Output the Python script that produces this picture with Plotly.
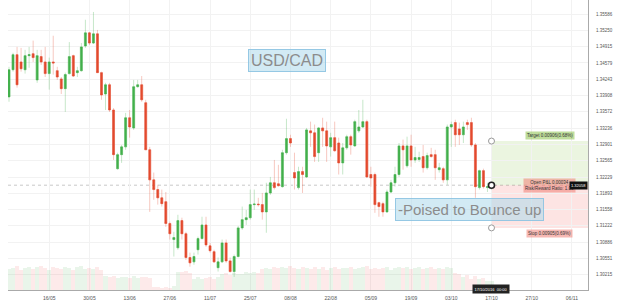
import plotly.graph_objects as go

# ---------------- data ----------------
tick_labels_x = ["16/05", "30/05", "13/06", "27/06", "11/07", "25/07", "08/08",
                 "22/08", "05/09", "19/09", "03/10", "17/10", "27/10", "06/11"]
tick_pos_x = [10, 20, 30, 40, 50, 60, 70, 80, 90, 100, 110, 120, 130, 140]

price_ticks = ["1.30215", "1.30551", "1.30886", "1.31222", "1.31558", "1.31893",
               "1.32229", "1.32565", "1.32901", "1.33236", "1.33572", "1.33908",
               "1.34243", "1.34579", "1.34915", "1.35250", "1.35586"]

opens = [1.3388, 1.3444, 1.3475, 1.3460, 1.3444, 1.3473, 1.3477, 1.3423, 1.3471, 1.3460,
         1.3436, 1.3460, 1.3442, 1.3425, 1.3405, 1.3436, 1.3473, 1.3438, 1.3442, 1.3493,
         1.3520, 1.3499, 1.3518, 1.3438, 1.3394, 1.3413, 1.3361, 1.3240, 1.3269, 1.3285,
         1.3345, 1.3324, 1.3409, 1.3413, 1.3376, 1.3279, 1.3217, 1.3197, 1.3180, 1.3172,
         1.3127, 1.3094, 1.3077, 1.3133, 1.3106, 1.3057, 1.3048, 1.3073, 1.3096, 1.3124,
         1.3081, 1.3069, 1.3036, 1.3048, 1.3087, 1.3050, 1.3028, 1.3059, 1.3118, 1.3135,
         1.3139, 1.3166, 1.3167, 1.3166, 1.3151, 1.3190, 1.3211, 1.3209, 1.3203, 1.3273,
         1.3302, 1.3232, 1.3201, 1.3234, 1.3223, 1.3318, 1.3314, 1.3273, 1.3324, 1.3318,
         1.3285, 1.3304, 1.3293, 1.3252, 1.3283, 1.3306, 1.3287, 1.3318, 1.3326, 1.3337,
         1.3228, 1.3228, 1.3170, 1.3168, 1.3151, 1.3192, 1.3211, 1.3228, 1.3287, 1.3246,
         1.3287, 1.3258, 1.3259, 1.3265, 1.3242, 1.3269, 1.3269, 1.3238, 1.3240, 1.3217,
         1.3326, 1.3335, 1.3322, 1.3310, 1.3335, 1.3335, 1.3289, 1.3201, 1.3236, 1.3201,
         1.3203]
highs = [1.3450, 1.3479, 1.3491, 1.3489, 1.3485, 1.3491, 1.3504, 1.3485, 1.3485, 1.3491,
         1.3469, 1.3514, 1.3450, 1.3429, 1.3438, 1.3501, 1.3475, 1.3450, 1.3499, 1.3547,
         1.3522, 1.3563, 1.3526, 1.3440, 1.3417, 1.3417, 1.3365, 1.3273, 1.3289, 1.3355,
         1.3361, 1.3423, 1.3423, 1.3431, 1.3382, 1.3285, 1.3232, 1.3207, 1.3197, 1.3192,
         1.3131, 1.3110, 1.3145, 1.3139, 1.3110, 1.3067, 1.3067, 1.3100, 1.3141, 1.3141,
         1.3087, 1.3073, 1.3057, 1.3094, 1.3094, 1.3057, 1.3063, 1.3122, 1.3162, 1.3155,
         1.3197, 1.3197, 1.3180, 1.3190, 1.3211, 1.3223, 1.3258, 1.3248, 1.3279, 1.3343,
         1.3310, 1.3273, 1.3244, 1.3244, 1.3324, 1.3337, 1.3331, 1.3326, 1.3345, 1.3337,
         1.3314, 1.3337, 1.3304, 1.3293, 1.3310, 1.3310, 1.3341, 1.3361, 1.3382, 1.3341,
         1.3244, 1.3232, 1.3172, 1.3172, 1.3197, 1.3217, 1.3244, 1.3293, 1.3300, 1.3306,
         1.3310, 1.3285, 1.3275, 1.3289, 1.3273, 1.3283, 1.3279, 1.3252, 1.3244, 1.3331,
         1.3337, 1.3341, 1.3335, 1.3337, 1.3341, 1.3345, 1.3293, 1.3238, 1.3240, 1.3211,
         1.3213]
lows = [1.3378, 1.3440, 1.3407, 1.3440, 1.3436, 1.3448, 1.3460, 1.3417, 1.3454, 1.3429,
        1.3403, 1.3434, 1.3423, 1.3394, 1.3357, 1.3434, 1.3429, 1.3429, 1.3440, 1.3489,
        1.3495, 1.3497, 1.3438, 1.3382, 1.3361, 1.3357, 1.3258, 1.3238, 1.3252, 1.3279,
        1.3304, 1.3320, 1.3407, 1.3378, 1.3279, 1.3151, 1.3176, 1.3166, 1.3162, 1.3120,
        1.3094, 1.3059, 1.3073, 1.3094, 1.3052, 1.3038, 1.3042, 1.3063, 1.3094, 1.3079,
        1.3067, 1.3046, 1.3028, 1.3046, 1.3046, 1.3026, 1.3017, 1.3057, 1.3114, 1.3124,
        1.3135, 1.3155, 1.3162, 1.3135, 1.3108, 1.3186, 1.3197, 1.3203, 1.3201, 1.3269,
        1.3285, 1.3197, 1.3197, 1.3190, 1.3221, 1.3285, 1.3254, 1.3254, 1.3285, 1.3254,
        1.3265, 1.3275, 1.3228, 1.3228, 1.3279, 1.3269, 1.3285, 1.3314, 1.3324, 1.3221,
        1.3203, 1.3149, 1.3141, 1.3141, 1.3149, 1.3190, 1.3203, 1.3223, 1.3238, 1.3242,
        1.3244, 1.3252, 1.3254, 1.3232, 1.3238, 1.3263, 1.3217, 1.3232, 1.3211, 1.3207,
        1.3285, 1.3285, 1.3289, 1.3293, 1.3320, 1.3285, 1.3180, 1.3197, 1.3199, 1.3192,
        1.3197]
closes = [1.3444, 1.3475, 1.3413, 1.3446, 1.3473, 1.3475, 1.3469, 1.3473, 1.3460, 1.3436,
          1.3460, 1.3458, 1.3429, 1.3405, 1.3434, 1.3471, 1.3431, 1.3442, 1.3491, 1.3520,
          1.3499, 1.3518, 1.3438, 1.3392, 1.3413, 1.3361, 1.3269, 1.3269, 1.3285, 1.3345,
          1.3326, 1.3409, 1.3413, 1.3382, 1.3279, 1.3217, 1.3197, 1.3180, 1.3168, 1.3127,
          1.3106, 1.3098, 1.3133, 1.3106, 1.3057, 1.3046, 1.3059, 1.3096, 1.3124, 1.3083,
          1.3071, 1.3048, 1.3048, 1.3087, 1.3050, 1.3028, 1.3059, 1.3118, 1.3135, 1.3139,
          1.3166, 1.3167, 1.3166, 1.3151, 1.3190, 1.3211, 1.3201, 1.3205, 1.3273, 1.3302,
          1.3293, 1.3221, 1.3234, 1.3228, 1.3320, 1.3314, 1.3265, 1.3324, 1.3318, 1.3287,
          1.3304, 1.3277, 1.3252, 1.3283, 1.3306, 1.3289, 1.3337, 1.3326, 1.3337, 1.3223,
          1.3221, 1.3166, 1.3162, 1.3151, 1.3192, 1.3211, 1.3228, 1.3287, 1.3279, 1.3287,
          1.3258, 1.3263, 1.3263, 1.3242, 1.3267, 1.3265, 1.3242, 1.3242, 1.3217, 1.3326,
          1.3331, 1.3310, 1.3310, 1.3326, 1.3331, 1.3289, 1.3203, 1.3236, 1.3203, 1.3203,
          1.3207]
volumes = [118, 124, 130, 112, 121, 128, 116, 125, 132, 119, 110, 127, 122, 115, 129, 120,
           113, 126, 131, 118, 124, 117, 128, 112, 78, 72, 80, 66, 74, 70, 68, 75, 64, 70,
           72, 66, 18, 14, 12, 16, 10, 20, 102, 98, 105, 96, 62, 70, 58, 66, 74, 60, 72, 88,
           94, 84, 96, 90, 86, 98, 92, 100, 95, 118, 124, 115, 128, 120, 126, 119, 130, 122,
           116, 127, 121, 114, 125, 118, 129, 112, 120, 126, 117, 123, 119, 128, 115, 121,
           127, 130, 118, 124, 116, 122, 128, 113, 120, 126, 119, 125, 117, 122, 129, 114,
           121, 127, 118, 124, 116, 125, 119, 96, 88, 70, 82, 62, 76, 58, 64, 52, 48]

ENTRY = 1.3206
TARGET = 1.3297
STOP = 1.3118
LAST_PRICE = 1.3206
ENTRY_BAR = 120

# ---------------- styling ----------------
GREEN = "#43b04c"
RED = "#e34a2e"
GREEN_WICK = "rgba(67,176,76,0.30)"
RED_WICK = "rgba(227,74,46,0.30)"
FONT = "Liberation Sans, Arial, sans-serif"

idx = list(range(len(opens)))
body_hi = [max(o, c) for o, c in zip(opens, closes)]
body_lo = [min(o, c) for o, c in zip(opens, closes)]
vol_colors = ["rgba(76,175,80,0.12)" if c >= o else "rgba(239,83,80,0.12)"
              for o, c in zip(opens, closes)]

fig = go.Figure()

# volume (primary hidden axis)
fig.add_trace(go.Bar(x=idx, y=volumes, marker=dict(color=vol_colors, line=dict(width=0)),
                     width=1.0, yaxis="y", hoverinfo="skip", showlegend=False))

# wicks (light)
fig.add_trace(go.Candlestick(
    x=idx, open=opens, high=highs, low=lows, close=closes, yaxis="y2",
    increasing=dict(line=dict(color=GREEN_WICK, width=1), fillcolor="rgba(0,0,0,0)"),
    decreasing=dict(line=dict(color=RED_WICK, width=1), fillcolor="rgba(0,0,0,0)"),
    hoverinfo="skip", showlegend=False))

# bodies (solid)
fig.add_trace(go.Candlestick(
    x=idx, open=opens, high=body_hi, low=body_lo, close=closes, yaxis="y2",
    increasing=dict(line=dict(color=GREEN, width=0.4), fillcolor=GREEN),
    decreasing=dict(line=dict(color=RED, width=0.4), fillcolor=RED),
    whiskerwidth=0, hoverinfo="skip", showlegend=False))

# position tool handles
fig.add_trace(go.Scatter(
    x=[ENTRY_BAR, ENTRY_BAR], y=[TARGET, STOP], yaxis="y2", mode="markers",
    marker=dict(size=6, color="white", line=dict(color="#999999", width=1)),
    hoverinfo="skip", showlegend=False))
fig.add_trace(go.Scatter(
    x=[ENTRY_BAR], y=[ENTRY], yaxis="y2", mode="markers",
    marker=dict(size=6, color="white", line=dict(color="#222222", width=1.6)),
    hoverinfo="skip", showlegend=False))

X_END = 144.0

shapes = [
    dict(type="rect", xref="x", yref="y2", x0=ENTRY_BAR, x1=X_END, y0=ENTRY, y1=TARGET,
         fillcolor="rgba(139,195,74,0.17)", line=dict(width=0), layer="below"),
    dict(type="rect", xref="x", yref="y2", x0=ENTRY_BAR, x1=X_END, y0=STOP, y1=ENTRY,
         fillcolor="rgba(244,67,54,0.14)", line=dict(width=0), layer="below"),
    dict(type="line", xref="paper", yref="y2", x0=0, x1=1, y0=LAST_PRICE, y1=LAST_PRICE,
         line=dict(color="#c8c8c8", width=1, dash="dot"), layer="below"),
]

small = dict(family=FONT, size=4.5, color="#333333")
annotations = [
    dict(text="USD/CAD", xref="paper", yref="paper", x=0.481, y=0.793, showarrow=False,
         xanchor="center", yanchor="middle",
         font=dict(family=FONT, size=16, color="#8c8c8c"),
         bgcolor="rgba(173,216,235,0.55)", bordercolor="rgba(140,195,225,0.9)",
         borderwidth=1, borderpad=2),
    dict(text="-Poised to Bounce up", xref="paper", yref="paper", x=0.795, y=0.279,
         xanchor="center", yanchor="middle", showarrow=False,
         font=dict(family=FONT, size=15, color="#8c8c8c"),
         bgcolor="rgba(173,216,235,0.55)", bordercolor="rgba(140,195,225,0.9)",
         borderwidth=1, borderpad=2),
    dict(text="Target 0.00906(0.68%)", xref="paper", yref="y2", x=0.934, y=TARGET,
         xanchor="center", yanchor="bottom", yshift=1, showarrow=False, font=small,
         bgcolor="rgba(139,195,74,0.55)", borderpad=1),
    dict(text="Open P&L 0.00034<br>Risk/Reward Ratio: 1.00", xref="paper", yref="y2",
         x=0.934, y=ENTRY, xanchor="center", yanchor="middle", showarrow=False, font=small,
         bgcolor="rgba(240,128,118,0.55)", borderpad=1),
    dict(text="Stop 0.00905(0.69%)", xref="paper", yref="y2", x=0.934, y=STOP,
         xanchor="center", yanchor="top", yshift=-1, showarrow=False, font=small,
         bgcolor="rgba(240,128,118,0.55)", borderpad=1),
    dict(text="1.32058", xref="paper", yref="y2", x=1.0, y=LAST_PRICE, xanchor="right",
         yanchor="middle", showarrow=False,
         font=dict(family=FONT, size=4, color="white"),
         bgcolor="#111111", borderpad=1),
    dict(text="17/10/2016  00:00", xref="paper", yref="paper", x=0.832, y=0.0,
         xanchor="center", yanchor="top", yshift=6, showarrow=False,
         font=dict(family=FONT, size=4, color="white"),
         bgcolor="#222222", borderpad=1.5),
]

fig.update_layout(
    width=620, height=308,
    margin=dict(l=8, r=32, t=0, b=18),
    paper_bgcolor="white", plot_bgcolor="white",
    showlegend=False, bargap=0,
    shapes=shapes, annotations=annotations,
    xaxis=dict(range=[-0.25, X_END], tickmode="array", tickvals=tick_pos_x,
               ticktext=tick_labels_x, showgrid=True, gridcolor="#f2f2f2", gridwidth=1,
               zeroline=False, showline=True, linecolor="#aaaaaa", linewidth=1,
               tickfont=dict(family=FONT, size=5, color="#555555"),
               rangeslider=dict(visible=False), ticks="", ticklabelstandoff=3),
    yaxis=dict(range=[0, 1600], visible=False, fixedrange=True),
    yaxis2=dict(overlaying="y", side="right", range=[1.29900, 1.35877],
                tickmode="array", tickvals=[float(t) for t in price_ticks],
                ticktext=price_ticks, showgrid=True, gridcolor="#f2f2f2",
                zeroline=False, showline=True, linecolor="#aaaaaa", linewidth=1,
                tickfont=dict(family=FONT, size=4.5, color="#555555"),
                ticks="", ticklabelstandoff=6),
)

fig.write_html("out.html")
